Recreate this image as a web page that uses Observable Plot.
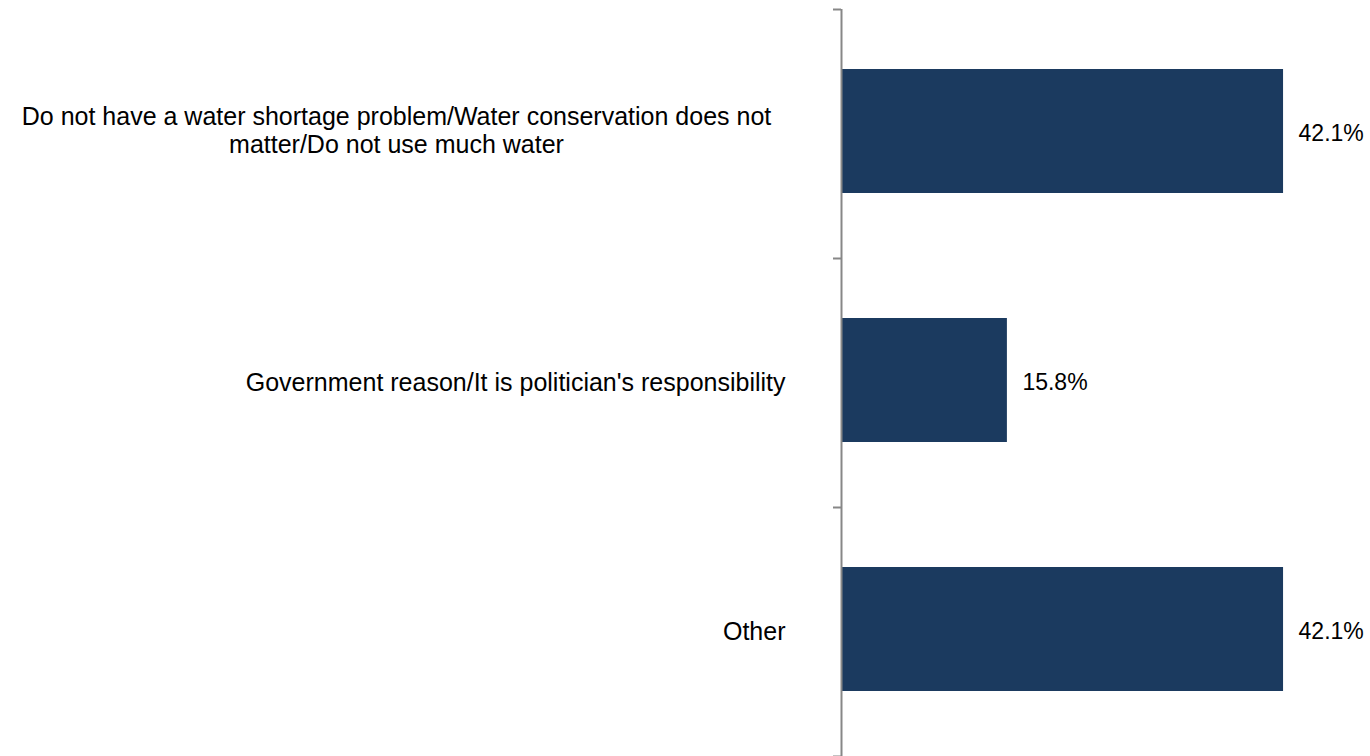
<!DOCTYPE html>
<html><head><meta charset="utf-8">
<script src="https://cdn.jsdelivr.net/npm/d3@7"></script>
<script src="https://cdn.jsdelivr.net/npm/@observablehq/plot@0.6"></script>
<style>
body{margin:0;background:#fff}
#chart svg{display:block}
</style>
</head><body><div id="chart"></div>
<script>
const categories = [
  "Do not have a water shortage problem/Water conservation does not\nmatter/Do not use much water",
  "Government reason/It is politician's responsibility",
  "Other"
];
const values = [42.1, 15.8, 42.1];
const valueLabels = ["42.1%", "15.8%", "42.1%"];
const boundaries = [0, 1, 2, 3];

const data = categories.map((c, i) => ({category: c, value: values[i], label: valueLabels[i], pos: i}));
const multi = data.filter(d => d.category.includes("\n"));
const single = data.filter(d => !d.category.includes("\n"));

const font = "'Liberation Sans', Arial, sans-serif";
const chart = Plot.plot({
  width: 1370,
  height: 756,
  marginLeft: 841,
  marginRight: 4,
  marginTop: 9,
  marginBottom: 0,
  style: {fontFamily: font, fontSize: "25px", color: "#000", background: "#fff"},
  x: {type: "linear", domain: [0, 50], axis: null},
  y: {type: "linear", domain: [0, 3], reverse: true, axis: null},
  marks: [
    Plot.rect(data, {x1: 0, x2: "value", y1: "pos", y2: d => d.pos + 1, insetTop: 60, insetBottom: 65, fill: "#1b3a5f"}),
    Plot.axisY({ticks: boundaries, tickSize: 8, tickFormat: () => "", label: null, stroke: "#878787", strokeWidth: 2, anchor: "left"}),
    Plot.ruleX([0], {stroke: "#878787", strokeWidth: 2}),
    Plot.text(multi, {x: 0, y: d => d.pos + 0.5, text: "category", textAnchor: "middle", dx: -445, dy: -4, lineHeight: 1.1, fill: "#000", fontSize: 25}),
    Plot.text(single, {x: 0, y: d => d.pos + 0.5, text: "category", textAnchor: "end", dx: -56, fill: "#000", fontSize: 25}),
    Plot.text(data, {x: "value", y: d => d.pos + 0.5, text: "label", textAnchor: "start", dx: 15, fill: "#000", fontSize: 23})
  ]
});
document.getElementById("chart").append(chart);
</script>
</body></html>
